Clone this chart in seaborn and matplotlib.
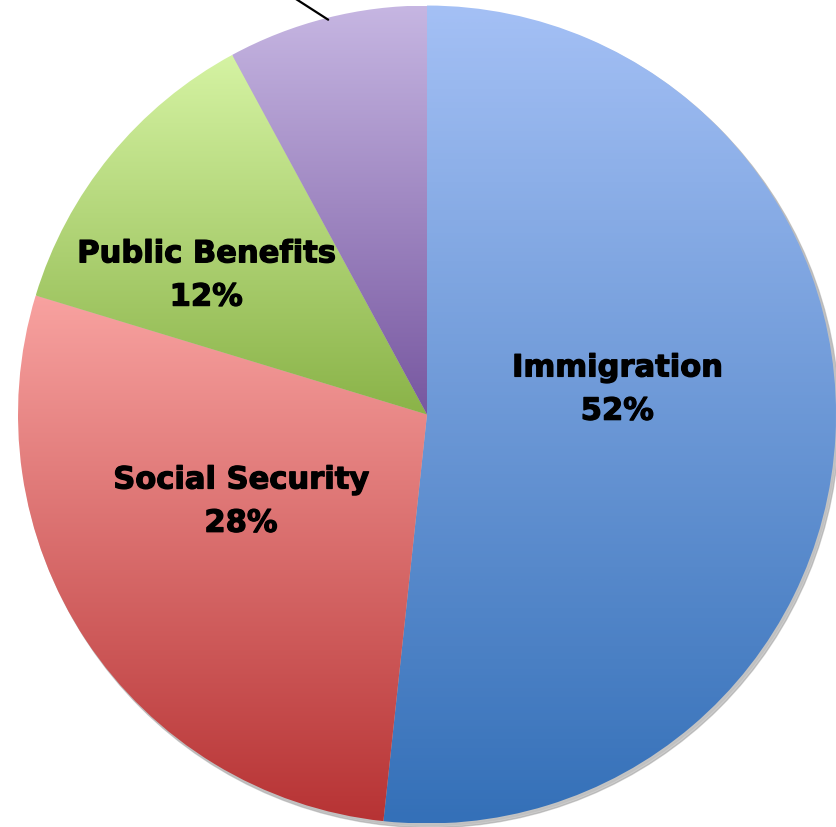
import numpy as np
import matplotlib
matplotlib.use("Agg")
import matplotlib.pyplot as plt
import matplotlib.patheffects as pe
import seaborn as sns

# Datos
# ==============================================================================
categorias = ["Immigration", "Social Security", "Public Benefits", "Other"]
valores = [51.7, 28.0, 12.4, 7.9]
etiquetas = ["Immigration\n52%", "Social Security\n28%", "Public Benefits\n12%", ""]

# colores del degradado (arriba, abajo) de cada sector
colores_arriba = ["#a4c0f5", "#f8a2a0", "#d5f3a3", "#c6b6e2"]
colores_abajo = ["#3470b8", "#b73334", "#8ab348", "#7757a0"]

sns.set_theme(style="white")
plt.rcParams['font.family'] = ['DejaVu Sans']

# Gráfico
# ==============================================================================
fig = plt.figure(figsize=(8.37, 8.28), dpi=100)
ax = fig.add_axes([0, 0, 1, 1])

# sombra
sombra = plt.Circle((0.008, -0.010), 1.0, color="#9a9a9a", alpha=0.5, zorder=0)
ax.add_patch(sombra)
sombra2 = plt.Circle((0.004, -0.005), 1.0, color="#bdbdbd", alpha=0.6, zorder=0)
ax.add_patch(sombra2)

wedges, _ = ax.pie(
    valores,
    startangle=90,
    counterclock=False,
    radius=1.0,
    center=(0, 0),
    frame=True,
    wedgeprops=dict(linewidth=0, edgecolor="none"),
)
ax.set_aspect("auto")
ax.axis("off")

grad = np.linspace(0, 1, 256).reshape(-1, 1)
for w, c1, c2 in zip(wedges, colores_arriba, colores_abajo):
    w.set_facecolor("none")
    w.set_zorder(2)
    ext = w.get_path().get_extents(w.get_patch_transform())
    cmap = sns.blend_palette([c1, c2], as_cmap=True)
    im = ax.imshow(grad, cmap=cmap, aspect="auto", origin="upper",
                   extent=[ext.x0, ext.x1, ext.y0, ext.y1],
                   interpolation="bilinear", zorder=1)
    im.set_clip_path(w)

ax.set_xlim(-1.044, 1.0024)
ax.set_ylim(-1.0086, 1.016)

# etiquetas
pos_etiquetas = [(0.465, 0.061), (-0.455, -0.213), (-0.540, 0.340)]
for (x, y), txt in zip(pos_etiquetas, etiquetas[:3]):
    ax.text(x, y, txt, ha="center", va="center", fontsize=22,
            fontweight="bold", color="black", linespacing=1.62, zorder=3,
            path_effects=[pe.withStroke(linewidth=0.9, foreground="black")])

# línea guía del sector pequeño (etiqueta fuera del área visible)
w = wedges[3]
ang = np.deg2rad((w.theta1 + w.theta2) / 2)
x0, y0 = np.cos(ang), np.sin(ang)
ax.plot([x0 + 0.004, x0 - 0.15], [y0 - 0.004, y0 + 0.095], color="black",
        lw=1.6, zorder=3, clip_on=False)

fig.savefig("out.png", dpi=100)
